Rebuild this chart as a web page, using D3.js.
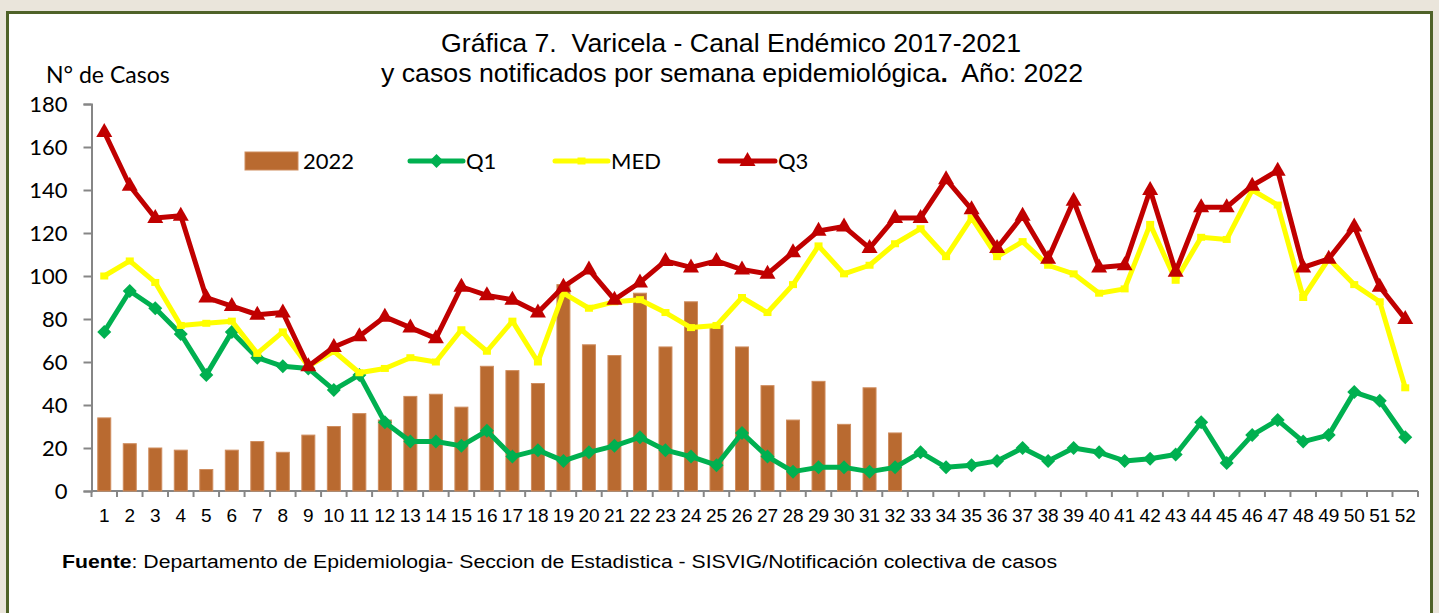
<!DOCTYPE html>
<html>
<head>
<meta charset="utf-8">
<script src="https://cdn.jsdelivr.net/npm/d3@7"></script>
<style>
  html, body { margin: 0; padding: 0; background: #eae5db; }
  svg { display: block; }
  text { white-space: pre; }
</style>
</head>
<body>
<div id="chart"></div>
<script>
// semanas epidemiologicas
const weeks = d3.range(1, 53).map(String);

// casos 2022 (solo hasta la semana 32)
const cases2022 = [34, 22, 20, 19, 10, 19, 23, 18, 26, 30, 36, 33, 44, 45, 39, 58, 56, 50, 96, 68,
  63, 92, 67, 88, 77, 67, 49, 33, 51, 31, 48, 27];

const q1 = [74, 93, 85, 73, 54, 74, 62, 58, 57, 47, 54, 32, 23, 23, 21, 28, 16, 19, 14, 18,
  21, 25, 19, 16, 12, 27, 16, 9, 11, 11, 9, 11, 18, 11, 12, 14, 20, 14, 20, 18,
  14, 15, 17, 32, 13, 26, 33, 23, 26, 46, 42, 25];

const med = [100, 107, 97, 77, 78, 79, 64, 74, 58, 65, 55, 57, 62, 60, 75, 65, 79, 60, 92, 85,
  88, 89, 83, 76, 77, 90, 83, 96, 114, 101, 105, 115, 122, 109, 127, 109, 116, 105, 101, 92,
  94, 124, 98, 118, 117, 140, 133, 90, 108, 96, 88, 48];

const q3 = [167, 142, 127, 128, 90, 86, 82, 83, 58, 67, 72, 81, 76, 71, 95, 91, 89, 83, 95, 103,
  89, 97, 107, 104, 107, 103, 101, 111, 121, 123, 113, 127, 127, 145, 131, 113, 128, 108, 135, 104,
  105, 140, 102, 132, 132, 142, 149, 104, 108, 123, 95, 80];

const yTicks = [0, 20, 40, 60, 80, 100, 120, 140, 160, 180];

const width = 1439;
const height = 613;
const plot = {left: 91.5, right: 1418, top: 104, bottom: 491};

const colors = {bar: '#b96a30', barEdge: '#cf8d5e', q1: '#00b050', med: '#ffff00', q3: '#c00000', axis: '#868686'};

const svg = d3.select('#chart').append('svg')
  .attr('width', width)
  .attr('height', height);

// marco
svg.append('rect')
  .attr('x', 7.5).attr('y', 12.5)
  .attr('width', 1424).attr('height', 620)
  .attr('fill', '#ffffff')
  .attr('stroke', '#4f6228')
  .attr('stroke-width', 3);

const x = d3.scaleBand()
  .domain(weeks)
  .range([plot.left, plot.right]);

const y = d3.scaleLinear()
  .domain([0, 180])
  .range([plot.bottom, plot.top]);

const cx = i => x(weeks[i]) + x.bandwidth() / 2;

// titulo
const title = svg.append('g')
  .attr('font-family', 'Liberation Sans, Arial, sans-serif')
  .attr('font-size', 25)
  .attr('fill', '#000');
title.append('text').attr('x', 441).attr('y', 52)
  .attr('textLength', 580).attr('lengthAdjust', 'spacingAndGlyphs')
  .text('Gráfica 7.  Varicela - Canal Endémico 2017-2021');
const t2 = title.append('text').attr('x', 381).attr('y', 82)
  .attr('textLength', 702).attr('lengthAdjust', 'spacingAndGlyphs');
t2.append('tspan').text('y casos notificados por semana epidemiológica');
t2.append('tspan').attr('font-weight', 'bold').text('.');
t2.append('tspan').text('  Año: 2022');

svg.append('text')
  .attr('x', 46).attr('y', 83)
  .attr('font-family', 'Lato, sans-serif')
  .attr('font-size', 23)
  .text('N° de Casos');

// ejes
const yAxis = svg.append('g')
  .attr('transform', `translate(${plot.left},0)`)
  .call(d3.axisLeft(y).tickValues(yTicks).tickSize(8).tickPadding(16));
yAxis.selectAll('text').attr('font-family', 'Lato, sans-serif').attr('font-size', 22).attr('fill', '#000');

const xAxis = svg.append('g')
  .attr('transform', `translate(0,${plot.bottom})`)
  .call(d3.axisBottom(x).tickSize(0).tickPadding(18));
xAxis.selectAll('text').attr('font-family', 'Liberation Sans, Arial, sans-serif').attr('font-size', 19).attr('fill', '#000');

// marcas entre categorias
xAxis.selectAll('.sep')
  .data(d3.range(weeks.length + 1))
  .enter().append('line')
  .attr('class', 'sep')
  .attr('x1', i => plot.left + i * x.step())
  .attr('x2', i => plot.left + i * x.step())
  .attr('y1', 0).attr('y2', 6);

[yAxis, xAxis].forEach(a => {
  a.select('.domain').attr('stroke', colors.axis).attr('stroke-width', 2);
  a.selectAll('line').attr('stroke', colors.axis).attr('stroke-width', 2);
});
xAxis.select('.domain').attr('d', `M${plot.left},0H${plot.right}`);

// barras 2022
const barW = 13;
svg.append('g').selectAll('rect')
  .data(cases2022)
  .enter().append('rect')
  .attr('x', (d, i) => cx(i) - barW / 2)
  .attr('y', d => y(d))
  .attr('width', barW)
  .attr('height', d => plot.bottom - y(d))
  .attr('fill', colors.bar)
  .attr('stroke', colors.barEdge)
  .attr('stroke-width', 1);

const line = d3.line()
  .x((d, i) => cx(i))
  .y(d => y(d));

function drawSeries(values, color, marker) {
  const g = svg.append('g');
  g.append('path')
    .datum(values)
    .attr('d', line)
    .attr('fill', 'none')
    .attr('stroke', color)
    .attr('stroke-width', 5)
    .attr('stroke-linejoin', 'round');
  g.selectAll('path.mk')
    .data(values)
    .enter().append('path')
    .attr('class', 'mk')
    .attr('transform', (d, i) => `translate(${cx(i)},${y(d)})`)
    .attr('d', marker)
    .attr('fill', color);
}

const diamond = 'M0,-7L7,0L0,7L-7,0Z';
const square = 'M-4,-3.5H4V3.5H-4Z';
const triangle = 'M0,-9L8,5H-8Z';

drawSeries(q1, colors.q1, diamond);
drawSeries(med, colors.med, square);
drawSeries(q3, colors.q3, triangle);

// leyenda
const legend = svg.append('g')
  .attr('font-family', 'Lato, sans-serif')
  .attr('font-size', 22);
legend.append('rect')
  .attr('x', 245).attr('y', 152).attr('width', 53).attr('height', 18)
  .attr('fill', colors.bar).attr('stroke', colors.barEdge);
legend.append('text').attr('x', 303).attr('y', 169).text('2022');

const legendLines = [
  {name: 'Q1', x0: 410, x1: 463, color: colors.q1, marker: diamond},
  {name: 'MED', x0: 555, x1: 608, color: colors.med, marker: square},
  {name: 'Q3', x0: 720, x1: 775, color: colors.q3, marker: triangle}
];
legendLines.forEach(l => {
  legend.append('line')
    .attr('x1', l.x0).attr('x2', l.x1).attr('y1', 161).attr('y2', 161)
    .attr('stroke', l.color).attr('stroke-width', 5).attr('stroke-linecap', 'round');
  legend.append('path')
    .attr('transform', `translate(${(l.x0 + l.x1) / 2},161)`)
    .attr('d', l.marker).attr('fill', l.color);
  legend.append('text').attr('x', l.x1 + 3).attr('y', 169).text(l.name);
});

// fuente
const src = svg.append('text')
  .attr('x', 62).attr('y', 568)
  .attr('font-family', 'Liberation Sans, Arial, sans-serif')
  .attr('font-size', 18)
  .attr('textLength', 995).attr('lengthAdjust', 'spacingAndGlyphs');
src.append('tspan').attr('font-weight', 'bold').text('Fuente');
src.append('tspan').text(': Departamento de Epidemiologia- Seccion de Estadistica - SISVIG/Notificación colectiva de casos');
</script>
</body>
</html>
